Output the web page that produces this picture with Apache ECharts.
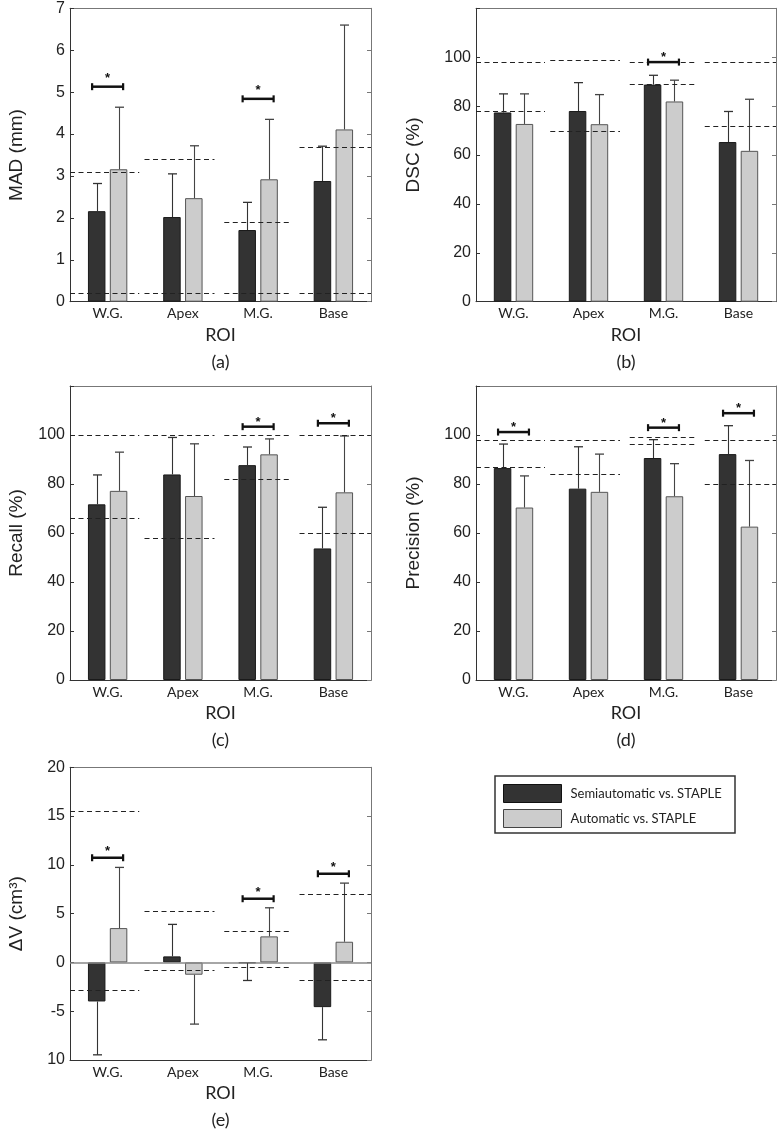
<!DOCTYPE html>
<html><head><meta charset="utf-8">
<script src="https://cdn.jsdelivr.net/npm/echarts@6/dist/echarts.min.js"></script>
<style>html,body{margin:0;padding:0;background:#fff}#c{width:777px;height:1129px}</style>
</head><body><div id="c"></div>
<script>
const categories = ['W.G.', 'Apex', 'M.G.', 'Base'];
const seriesNames = ['Semiautomatic vs. STAPLE', 'Automatic vs. STAPLE'];

// (a) MAD (mm)
const madSemi = [2.16, 2.02, 1.71, 2.88];
const madSemiSD = [0.66, 1.03, 0.66, 0.83];
const madAuto = [3.16, 2.47, 2.92, 4.11];
const madAutoSD = [1.48, 1.25, 1.43, 2.49];
const madLow = [0.2, 0.2, 0.2, 0.2];
const madHigh = [3.1, 3.4, 1.9, 3.7];
const madSig = [[0, 5.13], [2, 4.84]];
const madTicks = ['0', '1', '2', '3', '4', '5', '6', '7'];

// (b) DSC (%)
const dscSemi = [77.4, 78.0, 88.8, 65.3];
const dscSemiSD = [7.6, 11.6, 3.8, 12.5];
const dscAuto = [72.7, 72.6, 81.9, 61.7];
const dscAutoSD = [12.3, 12.1, 8.7, 21.1];
const dscLow = [78, 70, 89, 72];
const dscHigh = [98, 99, 98, 98];
const dscSig = [[2, 98.0]];
const pctTicks = ['0', '20', '40', '60', '80', '100', ''];

// (c) Recall (%)
const recSemi = [71.7, 83.9, 87.7, 53.7];
const recSemiSD = [12.0, 15.1, 7.4, 16.8];
const recAuto = [77.2, 75.1, 92.1, 76.6];
const recAutoSD = [15.8, 21.3, 6.3, 23.0];
const recLow = [66, 58, 82, 60];
const recHigh = [100, 100, 100, 100];
const recSig = [[2, 103.4], [3, 104.8]];

// (d) Precision (%)
const preSemi = [86.5, 78.1, 90.6, 92.2];
const preSemiSD = [9.8, 17.1, 7.5, 11.6];
const preAuto = [70.4, 76.8, 75.0, 62.6];
const preAutoSD = [12.9, 15.4, 13.3, 27.0];
const preLow = [87, 84, 96.3, 80];
const preHigh = [98, 98, 99, 98];
const preSig = [[0, 101.2], [2, 103.0], [3, 108.9]];

// (e) ΔV (cm3)
const dvSemi = [-4.0, 0.62, -0.07, -4.58];
const dvSemiSD = [5.47, 3.28, 1.78, 3.35];
const dvAuto = [3.52, -1.26, 2.67, 2.12];
const dvAutoSD = [6.22, 5.06, 2.93, 6.01];
const dvLow = [-2.8, -0.8, -0.5, -1.8];
const dvHigh = [15.5, 5.3, 3.2, 7.0];
const dvSig = [[0, 10.73], [2, 6.53], [3, 9.09]];
const dvTicks = ['10', '-5', '0', '5', '10', '15', '20'];

// ---- style constants ----
const BAR_W = 17.5, BAR_GAP = '25%';
const BAR_OFF = (17.5 + 17.5 * 0.25) / 2;
const SEG_START = [-0.5, -0.51, -0.45, -0.45];
const SEG_END = [0.42, 0.42, 0.43, 0.5];
const DARK = '#333333', LIGHT = '#cccccc';

const panels = [
  { grid: { left: 70, top: 8.3, width: 301, height: 293.4 }, yName: 'MAD (mm)', nameGap: 44,
    min: 0, max: 7, interval: 1, ticks: madTicks, semi: madSemi, semiSD: madSemiSD, auto: madAuto, autoSD: madAutoSD,
    low: madLow, high: madHigh, sig: madSig, label: '(a)', starGap: 12 },
  { grid: { left: 476, top: 8.3, width: 300, height: 293.4 }, yName: 'DSC (%)', nameGap: 53,
    min: 0, max: 120, interval: 20, ticks: pctTicks, semi: dscSemi, semiSD: dscSemiSD, auto: dscAuto, autoSD: dscAutoSD,
    low: dscLow, high: dscHigh, sig: dscSig, label: '(b)', starGap: 8 },
  { grid: { left: 70, top: 386, width: 301, height: 294 }, yName: 'Recall (%)', nameGap: 44,
    min: 0, max: 120, interval: 20, ticks: pctTicks, semi: recSemi, semiSD: recSemiSD, auto: recAuto, autoSD: recAutoSD,
    low: recLow, high: recHigh, sig: recSig, label: '(c)', starGap: 8 },
  { grid: { left: 476, top: 386, width: 300, height: 294 }, yName: 'Precision (%)', nameGap: 53,
    min: 0, max: 120, interval: 20, ticks: pctTicks, semi: preSemi, semiSD: preSemiSD, auto: preAuto, autoSD: preAutoSD,
    low: preLow, high: preHigh, sig: preSig, label: '(d)', starGap: 8 },
  { grid: { left: 70, top: 767.3, width: 301, height: 292.7 }, yName: 'ΔV (cm³)', nameGap: 44,
    min: -10, max: 20, interval: 5, ticks: dvTicks, semi: dvSemi, semiSD: dvSemiSD, auto: dvAuto, autoSD: dvAutoSD,
    low: dvLow, high: dvHigh, sig: dvSig, label: '(e)', starGap: 10, zeroLine: true }
];

const grids = [], xAxes = [], yAxes = [], series = [], graphics = [];

function errSeries(pi, means, sds, side, color) {
  return {
    type: 'custom', xAxisIndex: pi * 2, yAxisIndex: pi * 2, z: 6, silent: true,
    data: means.map((m, i) => [i, m, sds[i]]),
    renderItem: (params, api) => {
      const i = api.value(0), m = api.value(1), sd = api.value(2);
      const dir = m < 0 ? -1 : 1;
      const p0 = api.coord([i, m]);
      const p1 = api.coord([i, m + dir * sd]);
      const x = Math.round(p0[0] + side * BAR_OFF) + 0.5;
      return { type: 'group', children: [
        { type: 'line', shape: { x1: x, y1: p0[1], x2: x, y2: p1[1] }, style: { stroke: color, lineWidth: 1.1 } },
        { type: 'line', shape: { x1: x - 4.5, y1: p1[1], x2: x + 4.5, y2: p1[1] }, style: { stroke: color, lineWidth: 1.3 } }
      ] };
    }
  };
}

panels.forEach((p, pi) => {
  grids.push(p.grid);
  const bottom = p.grid.top + p.grid.height;
  const cx = p.grid.left + p.grid.width / 2;
  xAxes.push({
    type: 'category', gridIndex: pi, position: 'bottom', data: categories,
    axisLine: { onZero: false, lineStyle: { color: '#333', width: 1 } },
    axisTick: { inside: true, alignWithLabel: true, length: 4, lineStyle: { color: '#333' } },
    axisLabel: { margin: 5, fontFamily: 'Lato', fontSize: 14, color: '#222' },
    name: 'ROI', nameLocation: 'middle', nameGap: 24,
    nameTextStyle: { fontFamily: 'Lato', fontSize: 18, color: '#222' }
  });
  xAxes.push({
    type: 'category', gridIndex: pi, position: 'top', data: categories,
    axisLine: { onZero: false, lineStyle: { color: '#777', width: 1 } },
    axisTick: { inside: true, alignWithLabel: true, length: 4, lineStyle: { color: '#777' } },
    axisLabel: { show: false }
  });
  const fmt = v => p.ticks[Math.round((v - p.min) / p.interval)];
  yAxes.push({
    type: 'value', gridIndex: pi, position: 'left', min: p.min, max: p.max, interval: p.interval,
    splitLine: { show: false },
    axisLine: { show: true, onZero: false, lineStyle: { color: '#333', width: 1 } },
    axisTick: { show: true, inside: true, length: 4, lineStyle: { color: '#333' } },
    axisLabel: { margin: 5, fontFamily: 'Liberation Sans', fontSize: 16, color: '#222', formatter: fmt },
    name: p.yName, nameLocation: 'middle', nameGap: p.nameGap,
    nameTextStyle: { fontFamily: 'Liberation Sans', fontSize: 19, color: '#222' }
  });
  yAxes.push({
    type: 'value', gridIndex: pi, position: 'right', min: p.min, max: p.max, interval: p.interval,
    splitLine: { show: false },
    axisLine: { show: true, onZero: false, lineStyle: { color: '#777', width: 1 } },
    axisTick: { show: true, inside: true, length: 4, lineStyle: { color: '#777' } },
    axisLabel: { show: false }
  });

  const semiBar = {
    type: 'bar', name: seriesNames[0], xAxisIndex: pi * 2, yAxisIndex: pi * 2,
    data: p.semi, barWidth: BAR_W, barGap: BAR_GAP, z: 2, silent: true,
    itemStyle: { color: DARK, borderColor: '#1a1a1a', borderWidth: 1 }
  };
  if (p.zeroLine) {
    semiBar.markLine = {
      silent: true, symbol: 'none', label: { show: false }, animation: false,
      lineStyle: { color: '#888', type: 'solid', width: 1.5 },
      data: [{ yAxis: 0 }]
    };
  }
  series.push(semiBar);
  series.push({
    type: 'bar', name: seriesNames[1], xAxisIndex: pi * 2, yAxisIndex: pi * 2,
    data: p.auto, barWidth: BAR_W, barGap: BAR_GAP, z: 2, silent: true,
    itemStyle: { color: LIGHT, borderColor: '#555', borderWidth: 1 }
  });
  series.push(errSeries(pi, p.semi, p.semiSD, -1, '#333'));
  series.push(errSeries(pi, p.auto, p.autoSD, 1, '#444'));

  // dashed range segments
  const segData = [];
  categories.forEach((c, i) => { segData.push([i, p.low[i]]); segData.push([i, p.high[i]]); });
  series.push({
    type: 'custom', xAxisIndex: pi * 2, yAxisIndex: pi * 2, z: 7, silent: true, data: segData,
    renderItem: (params, api) => {
      const i = api.value(0), y = api.value(1);
      const c = api.coord([i, y]);
      const w = api.size([1, 0])[0];
      const yy = Math.round(c[1]) + 0.5;
      return { type: 'line', shape: { x1: c[0] + SEG_START[i] * w, y1: yy, x2: c[0] + SEG_END[i] * w, y2: yy },
        style: { stroke: '#222', lineWidth: 1.2, lineDash: [5, 3.5] } };
    }
  });

  // significance brackets
  series.push({
    type: 'custom', xAxisIndex: pi * 2, yAxisIndex: pi * 2, z: 8, silent: true, data: p.sig,
    renderItem: (params, api) => {
      const i = api.value(0), y = api.value(1);
      const c = api.coord([i, y]);
      const w = api.size([1, 0])[0];
      const h = 0.206 * w;
      return { type: 'group', children: [
        { type: 'line', shape: { x1: c[0] - h, y1: c[1], x2: c[0] + h, y2: c[1] }, style: { stroke: '#111', lineWidth: 2.5 } },
        { type: 'line', shape: { x1: c[0] - h, y1: c[1] - 3.5, x2: c[0] - h, y2: c[1] + 3.5 }, style: { stroke: '#111', lineWidth: 2.2 } },
        { type: 'line', shape: { x1: c[0] + h, y1: c[1] - 3.5, x2: c[0] + h, y2: c[1] + 3.5 }, style: { stroke: '#111', lineWidth: 2.2 } },
        { type: 'text', x: c[0], y: c[1] - p.starGap + 3.5,
          style: { text: '*', font: 'bold 13px "Liberation Sans"', fill: '#111', align: 'center', verticalAlign: 'middle' } }
      ] };
    }
  });

  graphics.push({ type: 'text', x: cx, y: bottom + 60, z: 10,
    style: { text: p.label, font: '18px Lato', fill: '#222', align: 'center', verticalAlign: 'middle' } });
});

graphics.push({ type: 'rect', x: 495, y: 776, z: 0, shape: { width: 240, height: 57 },
  style: { fill: '#fff', stroke: '#333', lineWidth: 1.5 } });

const option = {
  animation: false,
  backgroundColor: '#fff',
  grid: grids,
  xAxis: xAxes,
  yAxis: yAxes,
  series: series,
  legend: {
    orient: 'vertical', left: 503, top: 784, padding: 0, itemWidth: 58, itemHeight: 18, itemGap: 6,
    selectedMode: false, icon: 'rect', z: 20,
    textStyle: { fontFamily: 'Lato', fontSize: 13, color: '#222', padding: [0, 0, 0, 4] },
    data: [
      { name: seriesNames[0], itemStyle: { color: DARK, borderColor: '#111', borderWidth: 1 } },
      { name: seriesNames[1], itemStyle: { color: LIGHT, borderColor: '#444', borderWidth: 1 } }
    ]
  },
  graphic: graphics
};

const chart = echarts.init(document.getElementById('c'), null, { renderer: 'canvas' });
chart.setOption(option);
</script>
</body></html>
